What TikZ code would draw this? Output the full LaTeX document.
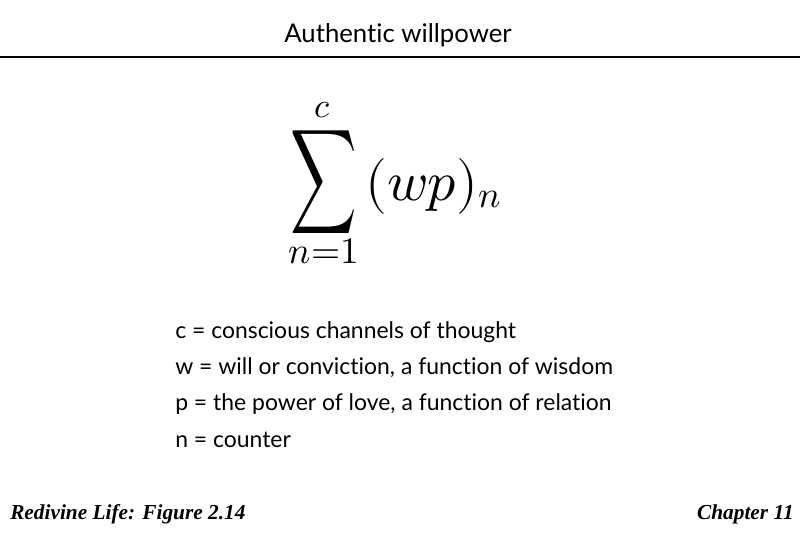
\documentclass[tikz,border=0pt]{standalone}
\usepackage{fontspec}
\usepackage{unicode-math}
\setmainfont{Liberation Serif}
\setmathfont{Latin Modern Math}
\newfontfamily\handfont{Lato}[Ligatures=NoCommon]
\newfontfamily\footfont{Liberation Serif}
\tikzset{
  titletext/.style={anchor=base,inner sep=0pt,font=\handfont\fontsize{19.3}{23}\selectfont},
  legendtext/.style={anchor=base west,inner sep=0pt,font=\handfont\fontsize{17.2}{20}\selectfont},
  footertext/.style={inner sep=0pt,font=\footfont\bfseries\itshape\fontsize{16}{19}\selectfont},
  mathpart/.style={inner sep=0pt},
}
\begin{document}
\begin{tikzpicture}[x=0.75pt,y=-0.75pt]
\useasboundingbox (0,0) rectangle (800,533);
\node[titletext] (title) at (398,42) {Authentic willpower};
\coordinate (rl) at (0,57);
\coordinate (rr) at (800,57);
\draw[line width=1.5pt] (rl) -- (rr);
% formula
\node[mathpart] (sigma) at (323.5,182) {\resizebox*{50pt}{77pt}{$\displaystyle\sum$}};
\node[mathpart,anchor=base] (upper) at (322,117) {\fontsize{26}{26}\selectfont$c$};
\node[mathpart,anchor=base] (lower) at (324,263) {\fontsize{28}{28}\selectfont$n{=}1$};
\node[mathpart,anchor=base west] (wp) at (365,200) {\fontsize{42}{42}\selectfont$(wp)$};
\node[mathpart,anchor=base west] (sub) at (478,207) {\fontsize{28}{28}\selectfont$n$};
% legend
\node[legendtext] (lc) at (175,338) {c = conscious channels of thought};
\node[legendtext] (lw) at (175,374) {w = will or conviction, a function of wisdom};
\node[legendtext] (lp) at (175,410) {p = the power of love, a function of relation};
\node[legendtext] (ln) at (175,447) {n = counter};
% footer
\node[footertext,anchor=base west] (fl) at (10,519) {Redivine Life: Figure 2.14};
\node[footertext,anchor=base east] (fr) at (794,519) {Chapter 11};
\end{tikzpicture}
\end{document}
